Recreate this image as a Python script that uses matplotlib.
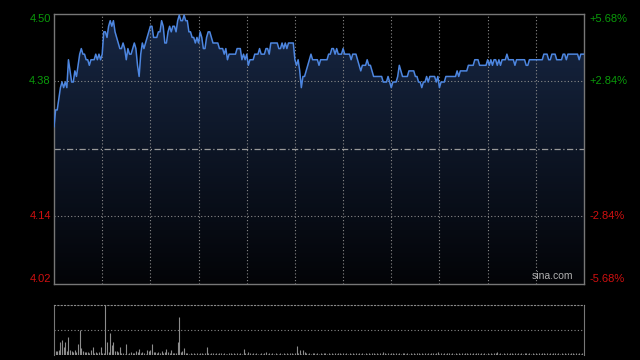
import numpy as np
import matplotlib
matplotlib.use("Agg")
import matplotlib.pyplot as plt
from matplotlib.colors import LinearSegmentedColormap

plt.rcParams['font.family'] = ['Liberation Sans', 'DejaVu Sans']

# 分时数据 (港股: 09:30-12:00, 13:00-16:00)
prev_close = 4.26

am_price = [
    4.30, 4.33, 4.33, 4.35, 4.37, 4.38, 4.37, 4.38, 4.37, 4.42,
    4.40, 4.38, 4.38, 4.40, 4.39, 4.41, 4.43, 4.44, 4.43, 4.43,
    4.42, 4.42, 4.41, 4.42, 4.42, 4.42, 4.43, 4.42, 4.43, 4.42,
    4.43, 4.47, 4.47, 4.46, 4.48, 4.49, 4.48, 4.49, 4.47, 4.46,
    4.45, 4.44, 4.44, 4.45, 4.44, 4.42, 4.44, 4.43, 4.43, 4.44,
    4.45, 4.44, 4.41, 4.39, 4.43, 4.45, 4.44, 4.45, 4.46, 4.47,
    4.48, 4.48, 4.46, 4.46, 4.46, 4.47, 4.47, 4.49, 4.48, 4.45,
    4.45, 4.47, 4.48, 4.47, 4.48, 4.48, 4.47, 4.49, 4.50, 4.49,
    4.49, 4.50, 4.49, 4.49, 4.47, 4.47, 4.46, 4.46, 4.45, 4.46,
    4.45, 4.47, 4.46, 4.44, 4.44, 4.46, 4.47, 4.47, 4.46, 4.45,
    4.45, 4.45, 4.45, 4.44, 4.44, 4.44, 4.43, 4.44, 4.42, 4.43,
    4.43, 4.43, 4.43, 4.43, 4.44, 4.44, 4.44, 4.42, 4.43, 4.42,
    4.43, 4.41, 4.42, 4.42, 4.42, 4.43, 4.43, 4.43, 4.44, 4.43,
    4.43, 4.43, 4.44, 4.44, 4.43, 4.45, 4.45, 4.45, 4.45, 4.45,
    4.44, 4.44, 4.45, 4.44, 4.45, 4.44, 4.45, 4.45, 4.45, 4.45,
    4.42,
]
pm_price = [
    4.41, 4.42, 4.40, 4.37, 4.39, 4.39, 4.40, 4.41, 4.42,
    4.43, 4.42, 4.42, 4.42, 4.42, 4.41, 4.42, 4.42, 4.42, 4.42,
    4.42, 4.43, 4.43, 4.44, 4.44, 4.43, 4.44, 4.43, 4.43, 4.43,
    4.44, 4.43, 4.43, 4.43, 4.43, 4.42, 4.43, 4.43, 4.43, 4.42,
    4.41, 4.40, 4.41, 4.41, 4.41, 4.42, 4.41, 4.41, 4.40, 4.39,
    4.39, 4.39, 4.39, 4.39, 4.39, 4.38, 4.38, 4.38, 4.39, 4.38,
    4.37, 4.38, 4.38, 4.38, 4.39, 4.41, 4.40, 4.39, 4.39, 4.39,
    4.39, 4.40, 4.40, 4.40, 4.40, 4.39, 4.39, 4.38, 4.38, 4.37,
    4.38, 4.38, 4.39, 4.38, 4.39, 4.39, 4.39, 4.39, 4.38, 4.39,
    4.37, 4.38, 4.38, 4.38, 4.39, 4.39, 4.39, 4.39, 4.39, 4.39,
    4.39, 4.40, 4.39, 4.40, 4.40, 4.40, 4.40, 4.40, 4.41, 4.41,
    4.41, 4.41, 4.42, 4.42, 4.42, 4.41, 4.41, 4.41, 4.41, 4.41,
    4.42, 4.41, 4.42, 4.41, 4.42, 4.42, 4.41, 4.42, 4.41, 4.42,
    4.42, 4.42, 4.43, 4.42, 4.42, 4.42, 4.42, 4.41, 4.42, 4.42,
    4.42, 4.42, 4.42, 4.42, 4.41, 4.41, 4.42, 4.42, 4.42, 4.42,
    4.42, 4.42, 4.42, 4.42, 4.42, 4.43, 4.43, 4.43, 4.42, 4.42,
    4.43, 4.43, 4.43, 4.42, 4.42, 4.42, 4.42, 4.43, 4.43, 4.42,
    4.43, 4.43, 4.43, 4.43, 4.43, 4.43, 4.43, 4.42, 4.43, 4.43,
    4.43,
]

am_volume = [
    10, 8, 8, 10, 25, 30, 15, 26, 8, 36,
    10, 8, 6, 10, 6, 22, 50, 13, 8, 6,
    6, 6, 3, 10, 15, 3, 6, 3, 5, 15,
    3, 3, 100, 26, 6, 44, 20, 25, 8, 8,
    6, 15, 3, 3, 2, 22, 2, 3, 6, 3,
    3, 8, 5, 12, 3, 6, 3, 2, 10, 8,
    10, 22, 6, 6, 3, 6, 3, 8, 3, 6,
    12, 6, 3, 10, 3, 3, 3, 25, 76, 6,
    8, 13, 3, 3, 2, 4, 2, 3, 2, 3,
    2, 4, 3, 2, 3, 16, 3, 2, 3, 4,
    2, 3, 2, 4, 3, 2, 3, 2, 2, 3,
    4, 2, 3, 2, 3, 2, 3, 2, 12, 3,
    2, 6, 3, 2, 3, 2, 3, 2, 2, 3,
    2, 3, 6, 2, 3, 2, 3, 2, 3, 2,
    2, 3, 2, 3, 2, 3, 2, 4, 3, 2,
    3,
]
pm_volume = [
    18, 3, 10, 2, 10, 6, 3, 2, 3,
    2, 3, 4, 2, 3, 2, 3, 2, 3, 4,
    2, 3, 2, 3, 2, 3, 2, 4, 3, 2,
    3, 2, 3, 2, 3, 2, 3, 2, 4, 2,
    3, 2, 3, 2, 3, 2, 3, 2, 4, 3,
    2, 3, 2, 3, 2, 6, 3, 2, 3, 2,
    3, 4, 2, 3, 2, 3, 2, 4, 3, 2,
    3, 2, 3, 2, 3, 2, 4, 3, 2, 3,
    2, 3, 2, 3, 2, 3, 4, 2, 3, 6,
    2, 3, 2, 3, 2, 3, 4, 2, 3, 2,
    3, 2, 3, 2, 3, 2, 4, 3, 2, 3,
    2, 3, 2, 3, 4, 2, 3, 2, 3, 2,
    3, 2, 3, 2, 4, 3, 5, 2, 3, 2,
    3, 2, 3, 2, 3, 4, 2, 3, 2, 3,
    2, 3, 2, 3, 4, 2, 3, 2, 3, 2,
    3, 2, 3, 2, 4, 3, 2, 3, 2, 3,
    2, 3, 4, 2, 3, 2, 3, 2, 3, 2,
    3, 2, 3, 4, 2, 3, 2, 3, 2, 3,
    3,
]

left_labels = ['4.50', '4.38', '4.14', '4.02']
right_labels = ['+5.68%', '+2.84%', '-2.84%', '-5.68%']

price = np.array(am_price + pm_price)
volume = np.array(am_volume + pm_volume)
minutes = np.arange(len(price))

span = prev_close * 0.0568
y_min, y_max = prev_close - span, prev_close + span
grid_levels = [prev_close + span / 2, prev_close - span / 2]

fig = plt.figure(figsize=(6.4, 3.6), dpi=100, facecolor='black')
W, H = 640, 360
ax = fig.add_axes([54 / W, 1 - 284 / H, 530 / W, 270 / H], facecolor='black')
vax = fig.add_axes([54 / W, 1 - 355 / H, 530 / W, 50.3 / H], facecolor='black')

grid_color = '#8a8a8a'
border_color = '#777777'

# 渐变填充
cmap = LinearSegmentedColormap.from_list('fill', ['#030407', '#172744'])
grad = np.linspace(0, 1, 256).reshape(-1, 1)
im = ax.imshow(grad, cmap=cmap, origin='lower', aspect='auto',
               extent=[0, minutes[-1], y_min, y_max], zorder=1)
poly = ax.fill_between(minutes, price, y_min, color='none', lw=0)
im.set_clip_path(poly.get_paths()[0], transform=ax.transData)

for x in range(30, 330, 30):
    ax.axvline(x, color=grid_color, lw=0.8, ls=(0, (1, 2)), zorder=2)
for lv in grid_levels:
    ax.axhline(lv, color=grid_color, lw=0.8, ls=(0, (1, 2)), zorder=2)
ax.axhline(prev_close, color='#9a9a9a', lw=0.9, ls=(0, (5, 2, 1, 2)), zorder=2)

ax.plot(minutes, price, color='#4d86e0', lw=1.1, zorder=3)

ax.set_xlim(0, minutes[-1])
ax.set_ylim(y_min, y_max)
ax.set_xticks([])
ax.set_yticks([])
for sp in ax.spines.values():
    sp.set_color(border_color)
    sp.set_linewidth(1)

# 左右刻度标签
label_y = [y_max, grid_levels[0], grid_levels[1], y_min]
label_va = ['top', 'center', 'center', 'bottom']
label_color = ['#0a9a0a', '#0a9a0a', '#d01010', '#d01010']
for txt_l, txt_r, yy, va, c in zip(left_labels, right_labels, label_y, label_va, label_color):
    ax.text(-0.006, yy, txt_l, transform=ax.get_yaxis_transform(), ha='right', va=va,
            color=c, fontsize=8)
    ax.text(1.011, yy, txt_r, transform=ax.get_yaxis_transform(), ha='left', va=va,
            color=c, fontsize=8)

ax.text(0.98, 0.012, 'sina.com', transform=ax.transAxes, ha='right', va='bottom',
        color='#b0b0b0', fontsize=7.5, zorder=4)

# 成交量
vax.vlines(minutes, 0, volume, color='#8c8c8c', lw=0.8)
vax.set_xlim(0, minutes[-1])
vax.set_ylim(0, volume.max())
vax.set_xticks([])
vax.set_yticks([])
vax.axhline(volume.max() / 2, color=grid_color, lw=0.8, ls=(0, (1, 2)))
vax.spines['top'].set_color(grid_color)
vax.spines['top'].set_linestyle((0, (1, 2)))
vax.spines['bottom'].set_visible(False)
vax.spines['left'].set_color(border_color)
vax.spines['right'].set_color(border_color)

fig.savefig('out.png', dpi=100, facecolor='black')
